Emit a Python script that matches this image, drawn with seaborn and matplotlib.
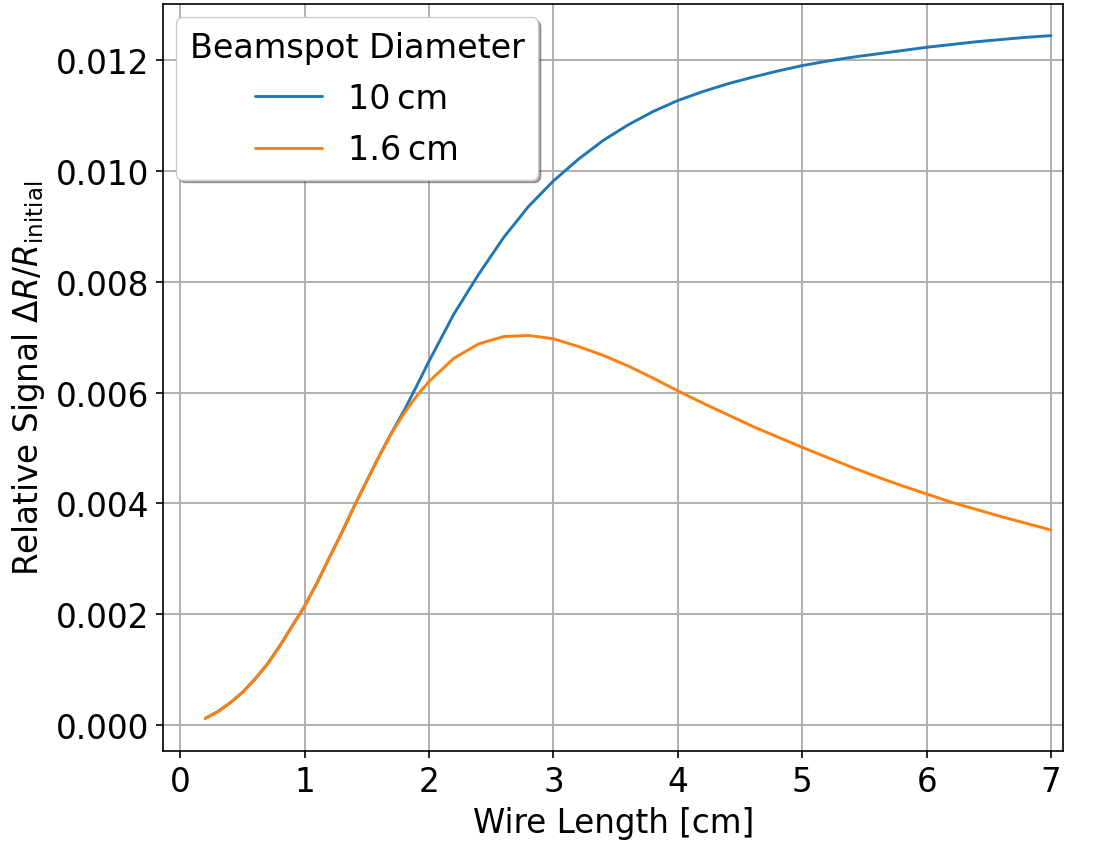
import numpy as np
import pandas as pd
import seaborn as sns
import matplotlib
matplotlib.use("Agg")
import matplotlib.pyplot as plt

# Wire length [cm]
wire_length = [0.2, 0.3, 0.4, 0.5, 0.6, 0.7, 0.8, 0.9, 1.0, 1.1, 1.2, 1.3, 1.4,
               1.5, 1.6, 1.7, 1.8, 1.9, 2.0, 2.2, 2.4, 2.6, 2.8, 3.0, 3.2, 3.4,
               3.6, 3.8, 4.0, 4.2, 4.4, 4.6, 4.8, 5.0, 5.2, 5.4, 5.6, 5.8, 6.0,
               6.2, 6.4, 6.6, 6.8, 7.0]

signal_10cm = [0.00012, 0.00024, 0.00040, 0.00059, 0.00083, 0.00110, 0.00143,
               0.00179, 0.00215, 0.00257, 0.00303, 0.00348, 0.00396, 0.00441,
               0.00486, 0.00528, 0.00568, 0.00612, 0.00657, 0.00742, 0.00814,
               0.00880, 0.00936, 0.00982, 0.01021, 0.01055, 0.01083, 0.01107,
               0.01127, 0.01143, 0.01157, 0.01169, 0.01180, 0.01190, 0.01198,
               0.01205, 0.01211, 0.01217, 0.01223, 0.01228, 0.01233, 0.01237,
               0.01241, 0.01244]

signal_1p6cm = [0.00012, 0.00024, 0.00040, 0.00059, 0.00083, 0.00110, 0.00143,
                0.00179, 0.00215, 0.00257, 0.00303, 0.00348, 0.00396, 0.00441,
                0.00486, 0.00527, 0.00563, 0.00594, 0.00620, 0.00662, 0.00688,
                0.00701, 0.00703, 0.00697, 0.00683, 0.00667, 0.00648, 0.00626,
                0.00603, 0.00581, 0.00560, 0.00539, 0.00520, 0.00501, 0.00483,
                0.00465, 0.00448, 0.00432, 0.00417, 0.00402, 0.00389, 0.00376,
                0.00364, 0.00352]

series_labels = ["10\u2009cm", "1.6\u2009cm"]

df = pd.concat([
    pd.DataFrame({"x": wire_length, "y": signal_10cm, "d": series_labels[0]}),
    pd.DataFrame({"x": wire_length, "y": signal_1p6cm, "d": series_labels[1]}),
])

sns.set_style("ticks")
plt.rcParams["font.family"] = ["DejaVu Sans"]
plt.rcParams["font.size"] = 24
plt.rcParams["mathtext.fontset"] = "dejavusans"
plt.rcParams["text.color"] = "black"
plt.rcParams["axes.labelcolor"] = "black"
plt.rcParams["xtick.color"] = "black"
plt.rcParams["ytick.color"] = "black"

fig = plt.figure(figsize=(10.94, 8.45), dpi=100)
ax = fig.add_axes([0.149, 0.110, 0.823, 0.884])

sns.lineplot(data=df, x="x", y="y", hue="d", palette=["#1f77b4", "#ff7f0e"],
             linewidth=2.1, ax=ax, sort=False)

ax.set_xlim(-0.14, 7.1)
ax.set_ylim(-0.00047, 0.01301)
ax.set_xticks(range(0, 8))
ax.set_yticks([0.0, 0.002, 0.004, 0.006, 0.008, 0.010, 0.012])
ax.yaxis.set_major_formatter(matplotlib.ticker.FormatStrFormatter("%.3f"))
ax.grid(True, color="#b0b0b0", linewidth=1.4)
ax.tick_params(axis="both", labelsize=23.5, length=5, width=1.2, pad=5,
               color="black", labelcolor="black")
for s in ax.spines.values():
    s.set_color("black")
    s.set_linewidth(1.2)

ax.set_xlabel("Wire Length [cm]", fontsize=23.5, labelpad=6, color="black")
ax.set_ylabel(r"Relative Signal $\Delta R/R_\mathrm{initial}$", fontsize=23.5,
              color="black", labelpad=6)

leg = ax.legend(title="Beamspot Diameter", loc="upper left", fontsize=24,
                title_fontsize=24, shadow=True, fancybox=True, framealpha=1,
                borderaxespad=0.4, labelspacing=0.55)
for t in leg.get_texts():
    t.set_color("black")
leg.get_title().set_color("black")

fig.savefig("out.png", dpi=100)
